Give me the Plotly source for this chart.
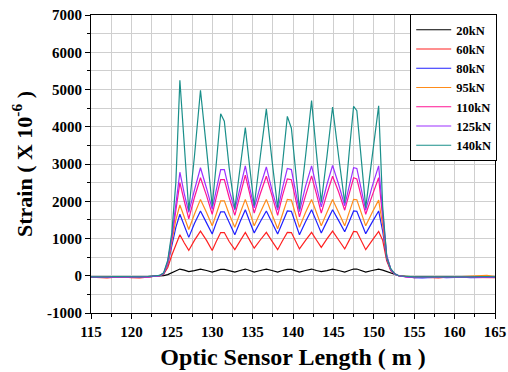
import plotly.graph_objects as go

# ---------------- data ----------------
x_left = [115, 116, 117, 118, 119, 120, 121, 122, 123]
x_mid = [123.5, 124.0, 124.5, 125.0, 125.5, 126.0, 126.55, 127.1, 127.8, 128.55,
         129.3, 130.0, 130.5, 131.05, 131.5, 132.1, 132.8, 133.45, 134.1, 134.65,
         135.2, 135.95, 136.7, 137.4, 138.1, 138.7, 139.3, 139.8, 140.3, 140.8,
         141.55, 142.3, 142.9, 143.5, 144.2, 144.9, 145.65, 146.4, 146.95, 147.5,
         147.9, 148.45, 149.0, 149.8, 150.6, 151.1, 151.6, 152.1, 152.6, 153.1]
x_right = [154, 155, 156, 157, 158, 159, 160, 161, 162, 163, 164, 165]
sensor_length = x_left + x_mid + x_right

labels = ["20kN", "60kN", "80kN", "95kN", "110kN", "125kN", "140kN"]

s20 = ([-30, -40, -30, -20, -30, -40, -30, -20, -10] +
       [0, 5, 30, 80, 130, 180, 150, 110, 140, 180,
        140, 100, 130, 170, 170, 130, 100, 140, 180, 140,
        100, 140, 180, 140, 100, 140, 170, 170, 130, 100,
        140, 180, 140, 110, 140, 180, 140, 100, 140, 180,
        180, 140, 100, 140, 180, 150, 110, 60, 20, 0] +
       [-20, -30, -40, -30, -30, -40, -30, -30, -40, -30, -20, -30])
s60 = ([-40, -50, -60, -40, -30, -50, -60, -40, -20] +
       [5, 45, 220, 550, 850, 1100, 880, 680, 950, 1200,
        950, 680, 920, 1160, 1160, 920, 700, 950, 1165, 950,
        740, 960, 1165, 930, 700, 940, 1165, 1160, 940, 720,
        950, 1165, 960, 760, 990, 1200, 960, 720, 950, 1190,
        1180, 930, 700, 950, 1190, 950, 400, 140, 40, 0] +
       [-30, -50, -40, -50, -60, -40, -40, -50, -40, -30, -40, -50])
s80 = ([-40, -40, -50, -30, -30, -40, -50, -30, -10] +
       [5, 55, 300, 800, 1300, 1650, 1320, 1030, 1400, 1740,
        1420, 1120, 1420, 1715, 1715, 1420, 1100, 1450, 1770, 1450,
        1150, 1450, 1740, 1430, 1120, 1430, 1740, 1730, 1420, 1100,
        1450, 1770, 1460, 1150, 1460, 1770, 1480, 1180, 1450, 1740,
        1730, 1430, 1130, 1440, 1740, 1200, 450, 150, 40, 0] +
       [-30, -50, -60, -40, -40, -50, -40, -40, -50, -40, -30, -40])
s95 = ([-30, -30, -40, -30, -20, -30, -40, -30, -10] +
       [5, 60, 330, 900, 1500, 1900, 1550, 1240, 1650, 2050,
        1700, 1340, 1650, 2010, 2010, 1650, 1300, 1700, 2050, 1700,
        1340, 1700, 2050, 1650, 1260, 1650, 2050, 2030, 1650, 1300,
        1700, 2050, 1700, 1340, 1700, 2050, 1700, 1340, 1700, 2050,
        2040, 1700, 1340, 1700, 2030, 1350, 480, 160, 45, 0] +
       [-20, -30, -40, -30, -30, -40, -30, -20, -30, -20, 10, -20])
s110 = ([-40, -50, -40, -30, -40, -50, -40, -30, -10] +
        [5, 65, 360, 1000, 1800, 2500, 2000, 1530, 2100, 2630,
         2150, 1650, 2100, 2580, 2580, 2100, 1620, 2200, 2700, 2200,
         1680, 2200, 2670, 2150, 1620, 2150, 2600, 2580, 2100, 1580,
         2150, 2680, 2200, 1680, 2200, 2670, 2250, 1760, 2200, 2630,
         2600, 2150, 1650, 2150, 2630, 1550, 520, 170, 50, 0] +
        [-30, -40, -50, -40, -40, -50, -40, -30, -40, -40, -30, -40])
s125 = ([-30, -40, -40, -30, -30, -40, -40, -30, -10] +
        [5, 70, 380, 1050, 1900, 2780, 2200, 1700, 2300, 2900,
         2350, 1790, 2300, 2850, 2850, 2300, 1760, 2400, 2950, 2350,
         1820, 2400, 2920, 2300, 1760, 2350, 2880, 2850, 2300, 1720,
         2400, 2950, 2400, 1850, 2450, 2960, 2450, 1880, 2400, 2900,
         2880, 2300, 1760, 2400, 2950, 1700, 550, 180, 50, 0] +
        [-30, -40, -40, -50, -40, -40, -40, -30, -40, -30, -30, -40])
s140 = ([-30, -40, -30, -20, -30, -40, -30, -20, -10] +
        [10, 80, 420, 1150, 2500, 5250, 3400, 1750, 3200, 4980,
         3400, 1870, 3000, 4350, 4150, 2900, 1800, 2900, 3980, 2900,
         1880, 3200, 4480, 3100, 1830, 3000, 4280, 3960, 2800, 1790,
         3200, 4700, 3300, 1970, 3200, 4530, 3200, 1960, 3300, 4550,
         4430, 3100, 1830, 3200, 4560, 1860, 500, 190, 50, 0] +
        [-20, -30, -30, -40, -30, -30, -20, -30, -30, -20, -20, -30])

series = [s20, s60, s80, s95, s110, s125, s140]
colors = ["#000000", "#ff2020", "#2020ff", "#ff8c1a", "#ff1493", "#9b30ff", "#1a8f8a"]

x_ticks = [115, 120, 125, 130, 135, 140, 145, 150, 155, 160, 165]
y_ticks = [-1000, 0, 1000, 2000, 3000, 4000, 5000, 6000, 7000]

# ---------------- figure ----------------
fig = go.Figure()
for name, vals, c in zip(labels, series, colors):
    fig.add_trace(go.Scatter(x=sensor_length, y=vals, mode="lines", name=name,
                             line=dict(color=c, width=1.2)))

FF = "Liberation Serif"
grid_c = "#cfcfcf"

fig.update_layout(
    width=508, height=372,
    margin=dict(l=91, r=12, t=15, b=59),
    paper_bgcolor="white", plot_bgcolor="white",
    font=dict(family=FF, color="black"),
    showlegend=True,
    legend=dict(x=1.003, y=1.003, xanchor="right", yanchor="top",
                bgcolor="white", bordercolor="black", borderwidth=1,
                font=dict(family=FF, size=12.5, color="black", weight="bold"),
                itemwidth=35, tracegroupgap=0),
)
fig.update_xaxes(
    range=[115, 165], tickvals=x_ticks, ticktext=[str(v) for v in x_ticks],
    automargin=False,
    showline=True, linecolor="black", linewidth=1.2, mirror=True,
    ticks="outside", ticklen=5, tickcolor="black",
    showgrid=True, gridcolor=grid_c, gridwidth=1.3, zeroline=False,
    minor=dict(dtick=2.5, tick0=115, showgrid=True, gridcolor=grid_c, gridwidth=1.3,
               ticks="outside", ticklen=3, tickcolor="black"),
    tickfont=dict(family=FF, size=15, color="black", weight="bold"),
    title=dict(text="Optic Sensor Length ( m )",
               font=dict(family=FF, size=24, color="black", weight="bold"), standoff=9),
)
fig.update_yaxes(
    range=[-1000, 7000], tickvals=y_ticks, ticktext=[str(v) for v in y_ticks],
    automargin=False,
    showline=True, linecolor="black", linewidth=1.2, mirror=True,
    ticks="outside", ticklen=5, tickcolor="black",
    showgrid=True, gridcolor=grid_c, gridwidth=1.3, zeroline=False,
    minor=dict(dtick=500, tick0=0, showgrid=True, gridcolor=grid_c, gridwidth=1.3,
               ticks="outside", ticklen=3, tickcolor="black"),
    tickfont=dict(family=FF, size=15, color="black", weight="bold"),
    title=dict(text="Strain ( X 10<sup>-6</sup> )",
               font=dict(family=FF, size=22, color="black", weight="bold"), standoff=8),
)

fig.write_html("out.html", config={"displayModeBar": False},
               post_script="document.body.style.margin='0';")
